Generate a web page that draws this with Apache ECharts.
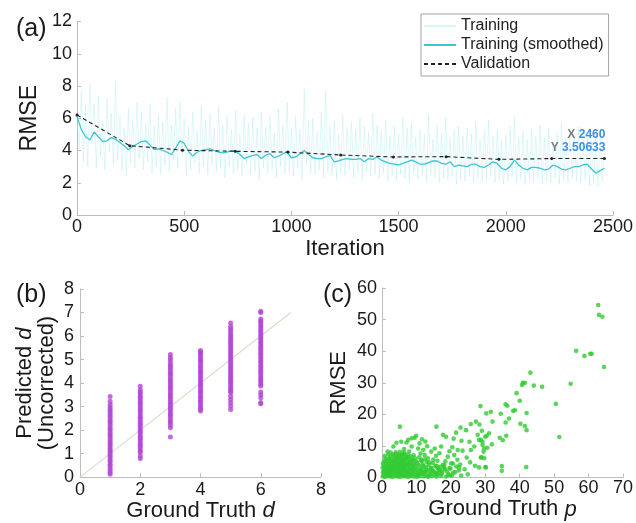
<!DOCTYPE html>
<html>
<head>
<meta charset="utf-8">
<script src="https://cdn.jsdelivr.net/npm/echarts@6/dist/echarts.min.js"></script>
<style>
  html, body { margin: 0; padding: 0; background: #ffffff; }
  #chart { width: 636px; height: 523px; }
</style>
</head>
<body>
<div id="chart"></div>
<script>
// ---------- (a) training progress ----------
const rawStep = 10;       // raw training RMSE sampled every 10 iterations
const trainingRaw = [
  6.2, 4.1, 7.6, 3.3, 6.8, 3.0, 8.1, 4.4, 6.9, 2.9,
  7.4, 3.6, 5.8, 2.8, 7.2, 3.9, 6.3, 3.1, 8.3, 3.4,
  6.1, 2.7, 5.4, 2.4, 6.6, 3.2, 5.9, 2.9, 7.0, 3.5,
  6.4, 2.8, 5.7, 3.3, 6.9, 2.6, 5.5, 3.0, 6.2, 2.5,
  5.8, 3.1, 7.3, 2.7, 5.6, 3.4, 6.6, 2.9, 7.0, 3.6,
  6.0, 2.4, 5.5, 2.8, 6.4, 3.2, 5.2, 2.6, 6.8, 3.0,
  5.9, 2.5, 6.3, 3.1, 5.4, 2.7, 6.7, 2.9, 5.6, 2.3,
  6.1, 3.0, 5.3, 2.6, 6.5, 2.8, 5.0, 2.4, 6.2, 3.1,
  5.7, 2.5, 6.0, 2.7, 5.4, 2.2, 6.4, 2.9, 5.5, 2.6,
  6.2, 2.8, 5.1, 2.3, 6.6, 3.0, 5.6, 2.5, 7.0, 2.7,
  5.4, 2.4, 6.1, 2.9, 5.3, 2.2, 7.8, 3.1, 5.8, 2.6,
  6.0, 2.5, 5.2, 2.8, 6.4, 2.3, 7.7, 2.7, 5.5, 2.4,
  5.9, 2.2, 5.0, 2.6, 6.2, 2.4, 5.4, 2.8, 5.8, 2.3,
  5.3, 2.6, 6.0, 2.2, 5.5, 2.7, 5.1, 2.4, 6.3, 2.5,
  5.6, 2.3, 5.2, 2.6, 5.9, 2.1, 4.9, 2.4, 5.5, 2.2,
  5.0, 2.5, 6.1, 2.3, 5.4, 2.0, 5.7, 2.6, 4.8, 2.2,
  5.3, 2.4, 5.0, 2.1, 6.2, 2.5, 4.7, 2.3, 5.6, 2.0,
  5.1, 2.3, 6.0, 2.2, 4.8, 2.4, 5.3, 1.9, 5.5, 2.2,
  4.9, 2.1, 5.4, 2.4, 5.0, 2.0, 5.8, 2.3, 4.7, 2.1,
  5.2, 2.2, 5.9, 2.4, 4.9, 2.0, 5.3, 2.2, 4.6, 1.9,
  5.0, 2.1, 5.5, 2.4, 6.1, 2.0, 4.8, 2.2, 5.2, 1.9,
  4.7, 2.2, 5.3, 2.0, 4.9, 2.3, 5.6, 1.9, 4.8, 2.1,
  5.4, 2.0, 4.6, 2.3, 5.1, 1.9, 5.7, 2.2, 4.8, 2.0,
  5.2, 2.3, 4.9, 2.1, 5.5, 2.0, 4.7, 2.2, 5.0, 1.8,
  4.6, 2.0, 5.2, 1.8, 4.9, 2.1, 3.9
];

const smoothStep = 20;    // smoothed curve sampled every 20 iterations
const trainingSmoothed = [
  6.1, 5.3, 4.85, 4.65, 5.15, 4.85, 4.55, 4.6, 4.8, 4.7,
  4.5, 4.3, 4.05, 4.25, 4.4, 4.55, 4.6, 4.35, 4.05, 4.1,
  4.0, 3.9, 3.75, 4.15, 4.6, 4.45, 3.95, 3.65, 3.9, 4.0,
  4.05, 4.1, 4.0, 3.9, 3.85, 3.9, 4.0, 3.95, 3.75, 3.5,
  3.6, 3.7, 3.75, 3.5, 3.7, 3.8, 3.55, 3.65, 3.8, 3.9,
  3.55, 3.6, 3.8, 4.0, 3.75, 3.55, 3.5, 3.5, 3.6, 3.7,
  3.3, 3.35, 3.45, 3.5, 3.45, 3.45, 3.5, 3.3, 3.5, 3.45,
  3.6, 3.4, 3.3, 3.2, 3.15, 3.1, 3.2, 3.3, 3.4, 3.3,
  3.15, 3.15, 3.25, 3.35, 3.35, 3.2, 3.15, 3.3, 3.0, 3.1,
  3.05, 3.0, 3.15, 3.15, 3.0, 2.95, 3.1, 3.3, 3.2, 2.9,
  2.8, 3.0, 3.4, 3.1, 2.9, 2.8, 2.95, 2.95, 2.9, 2.8,
  2.85, 3.1, 3.0, 2.85, 2.8, 2.9, 3.0, 3.0, 3.1, 3.15,
  2.85, 2.6, 2.75, 2.9
];

const validationIter = [0, 246, 492, 738, 984, 1230, 1476, 1722, 1968, 2214, 2460];
const validationRmse = [6.2, 4.3, 4.02, 3.95, 3.9, 3.72, 3.6, 3.62, 3.45, 3.5, 3.50633];

// ---------- (b) predicted vs ground-truth d ----------
const truthD = [1, 2, 3, 4, 5, 6];
const predictedD = [
  [0.12, 0.2, 0.29, 0.38, 0.48, 0.55, 0.66, 0.73, 0.83, 0.92, 1.01, 1.1, 1.18, 1.28, 1.37, 1.45, 1.54, 1.63, 1.73, 1.81,
   1.9, 2.0, 2.07, 2.17, 2.27, 2.35, 2.43, 2.53, 2.62, 2.7, 2.8, 2.89, 2.98, 3.09, 3.23, 3.43],
  [0.79, 0.9, 1.05, 1.12, 1.22, 1.31, 1.39, 1.48, 1.58, 1.66, 1.74, 1.84, 1.93, 2.01, 2.11, 2.2, 2.28, 2.38, 2.47, 2.55,
   2.64, 2.74, 2.83, 2.91, 3.0, 3.1, 3.18, 3.28, 3.37, 3.44, 3.54, 3.62, 3.71, 3.86],
  [1.71, 2.1, 2.2, 2.32, 2.4, 2.5, 2.61, 2.68, 2.77, 2.87, 2.95, 3.04, 3.14, 3.22, 3.32, 3.41, 3.5, 3.59, 3.69, 3.78,
   3.86, 3.96, 4.05, 4.13, 4.23, 4.33, 4.41, 4.5, 4.6, 4.69, 4.77, 4.87, 4.99, 5.09, 5.21],
  [2.81, 2.9, 2.98, 3.08, 3.18, 3.26, 3.35, 3.43, 3.53, 3.62, 3.7, 3.8, 3.9, 3.98, 4.07, 4.16, 4.25, 4.35, 4.43, 4.51,
   4.61, 4.7, 4.79, 4.89, 4.97, 5.05, 5.15, 5.24, 5.31, 5.38],
  [2.88, 3.02, 3.16, 3.3, 3.44, 3.6, 3.67, 3.75, 3.84, 3.93, 4.03, 4.11, 4.2, 4.29, 4.38, 4.47, 4.57, 4.65, 4.74, 4.83,
   4.92, 5.01, 5.1, 5.19, 5.28, 5.37, 5.46, 5.55, 5.64, 5.73, 5.82, 5.91, 6.0, 6.09, 6.2, 6.3, 6.41, 6.55],
  [3.12, 3.17, 3.38, 3.5, 3.62, 3.87, 3.95, 4.04, 4.13, 4.22, 4.31, 4.41, 4.49, 4.58, 4.67, 4.76, 4.86, 4.94, 5.03, 5.12,
   5.21, 5.3, 5.39, 5.48, 5.57, 5.66, 5.75, 5.84, 5.93, 6.02, 6.11, 6.2, 6.29, 6.38, 6.47, 6.56, 6.64, 6.72, 7.0, 7.05]
];
const identityLine = [[0, 0], [7, 7]];

// ---------- (c) RMSE vs ground-truth p ----------
const rmseVsP = [
  [0.2,0.3],[0.9,0.2],[1.6,0.4],[2.4,0.3],[3.1,0.2],[3.9,0.4],[4.6,0.3],[5.3,0.2],[6.1,0.4],[6.8,0.3],[7.6,0.2],
  [8.3,0.4],[9.2,0.3],[10.1,0.2],[11.0,0.4],[12.2,0.3],[13.4,0.2],[14.5,0.4],[15.8,0.3],[17.1,0.5],[18.6,0.3],[20.3,0.6],
  [0.5,1.0],[1.2,1.1],[2.0,0.9],[2.7,1.0],[3.5,1.2],[4.3,0.9],[5.0,1.1],[5.8,1.0],[6.5,0.9],[7.3,1.2],[8.0,1.0],
  [8.8,1.1],[9.7,0.9],[10.6,1.0],[11.6,1.2],[12.7,0.9],[13.9,1.1],[15.2,1.0],[16.4,1.3],[19.3,1.1],
  [0.3,1.7],[1.0,1.8],[1.8,1.6],[2.5,1.7],[3.3,1.9],[4.0,1.7],[4.8,1.6],[5.5,1.8],[6.3,1.7],[7.0,1.9],[7.8,1.6],
  [8.6,1.8],[9.4,1.7],[10.4,1.6],[11.3,1.9],[12.5,1.7],[14.1,1.8],[15.6,1.6],[17.5,1.9],[21.2,1.7],
  [0.6,2.4],[1.4,2.5],[2.2,2.3],[2.9,2.4],[3.7,2.6],[4.5,2.4],[5.2,2.3],[6.0,2.5],[6.7,2.4],[7.5,2.3],[8.3,2.6],
  [9.1,2.4],[10.0,2.5],[10.9,2.3],[12.0,2.6],[13.2,2.4],[14.7,2.2],[16.5,2.5],[18.3,2.7],
  [0.2,3.1],[1.1,3.2],[1.9,3.0],[2.6,3.1],[3.4,3.3],[4.2,3.1],[4.9,3.0],[5.7,3.2],[6.4,3.1],[7.2,3.3],[8.0,3.0],
  [8.9,3.2],[9.8,3.1],[11.2,3.0],[12.8,3.3],[14.3,3.1],[17.0,3.4],[19.6,3.0],[22.4,3.2],
  [0.5,3.8],[1.5,3.9],[2.3,3.7],[3.1,3.8],[3.9,4.0],[4.6,3.8],[5.4,3.7],[6.2,3.9],[6.9,3.8],[7.7,4.0],[8.6,3.7],
  [9.5,3.9],[10.7,3.8],[12.1,3.6],[13.6,4.0],[15.9,3.7],[18.1,3.9],
  [0.3,4.5],[1.2,4.6],[2.0,4.4],[2.8,4.5],[3.6,4.7],[4.4,4.5],[5.1,4.4],[5.9,4.6],[6.7,4.5],[7.5,4.3],[8.4,4.6],
  [9.3,4.4],[10.3,4.5],[11.8,4.2],[14.8,4.6],[20.6,4.4],
  [0.7,5.2],[1.6,5.3],[2.5,5.1],[3.3,5.2],[4.1,5.4],[4.9,5.2],[5.6,5.1],[6.4,5.3],[7.2,5.2],[8.1,5.0],[9.0,5.3],
  [10.0,5.1],[11.5,5.2],[13.0,4.9],[16.1,5.3],
  [1.0,5.9],[2.0,6.0],[3.0,5.8],[3.8,5.9],[4.6,6.1],[5.4,5.9],[6.1,5.8],[6.9,6.0],[7.8,5.9],[8.7,5.7],[9.6,6.0],[12.3,5.8],
  [2.4,6.6],[3.5,6.7],[4.3,6.5],[5.1,6.6],[5.9,6.8],[6.6,6.6],[7.4,6.5],[8.4,6.7],[10.8,6.4],
  [3.2,7.3],[4.1,7.4],[4.9,7.2],[5.8,7.3],[6.6,7.5],[7.5,7.2],[9.2,7.0],
  [4.0,8.0],[5.2,8.1],[6.3,7.9],[7.9,8.2],
  [10.5,0.8],[11.8,1.5],[12.9,2.1],[13.6,0.6],[14.2,2.8],[15.0,1.9],[15.5,3.6],[16.0,0.9],[16.9,2.3],[17.4,1.2],
  [18.0,3.1],[18.8,2.0],[19.5,0.7],[19.9,2.8],[20.7,1.5],[21.6,3.5],[22.3,2.2],[11.2,7.6],[12.0,8.8],[13.1,9.9],
  [13.8,4.8],[14.9,5.7],[15.7,6.9],[18.4,5.1],[19.6,8.3],[20.4,9.6],[21.9,5.6],[22.7,4.1],[24.0,2.6],[25.6,4.8],
  [26.8,9.8],[24.6,6.3],[27.0,3.7],[10.9,10.8],[12.6,11.4],[9.9,13.2],[6.4,9.0],[2.5,7.9],[0.8,6.8],[1.8,7.3],
  [5.2,16.1],[15.8,16.1],[7.1,11.1],[9.5,12.6],[11.6,12.1],[17.7,13.5],[18.6,12.9],[21.5,14.2],[22.8,15.8],[24.4,15.0],
  [25.8,16.9],[25.4,11.3],[23.1,11.6],[20.8,12.3],[22.0,8.7],[23.4,8.5],[25.8,8.7],[27.8,13.5],[28.2,11.9],[29.2,10.3],
  [28.9,6.4],[28.2,3.2],[30.2,3.2],[24.9,1.0],[23.0,0.6],[29.7,6.1],[20.1,4.5],[17.7,4.0],[16.2,2.9],[19.1,6.6],
  [21.0,7.1],[15.3,9.2],[14.3,8.2],[16.7,7.7],[17.2,9.8],[13.3,6.1],[12.4,7.1],[11.4,5.5],[10.5,9.2],[8.6,9.8],
  [4.2,11.0],[5.6,11.3],[7.6,11.9],[8.6,12.4],[3.3,9.8],[1.6,8.2],[27.3,17.7],[28.3,16.8],
  [62.8,54.6],[63.0,51.5],[64.0,50.9],[56.4,40.1],[58.8,38.5],[60.5,39.2],[60.9,39.2],[64.5,35.0],[43.1,33.2],[40.9,30.0],
  [41.5,30.0],[40.7,29.3],[44.1,29.1],[46.5,28.7],[54.8,29.7],[39.1,26.7],[40.0,24.3],[50.5,23.3],[35.9,23.2],[36.4,22.7],
  [38.1,21.1],[38.6,21.3],[42.0,20.4],[34.5,20.2],[30.3,20.3],[31.6,20.8],[28.6,22.6],[36.9,18.7],[32.1,17.7],[35.9,17.4],
  [40.2,17.0],[41.5,16.3],[42.0,15.0],[29.0,14.8],[31.1,14.0],[30.0,12.9],[30.4,13.2],[34.2,12.6],[35.1,11.8],[36.1,13.2],
  [51.5,12.8],[28.7,11.9],[29.2,11.3],[31.9,10.5],[30.6,9.4],[29.7,9.2],[29.5,8.2],[28.7,6.3],[30.0,3.3],[34.8,3.6],
  [34.8,2.1],[41.9,3.3]
];

// ---------- styling helpers ----------
const FONT = '"Liberation Sans", Arial, Helvetica, sans-serif';
const AXIS_GREY = '#bdbdbd';
const TEXT = '#1a1a1a';

function axis(extra, labelMargin, nameSize) {
  return Object.assign({
    type: 'value',
    axisLine: { show: true, onZero: false, lineStyle: { color: AXIS_GREY, width: 1 } },
    axisTick: { show: true, inside: true, length: 4, lineStyle: { color: AXIS_GREY } },
    axisLabel: { color: TEXT, fontSize: 18, fontFamily: FONT, margin: labelMargin, formatter: v => String(v) },
    splitLine: { show: false },
    nameLocation: 'middle',
    nameTextStyle: { color: TEXT, fontSize: nameSize, fontFamily: FONT }
  }, extra);
}

const chart = echarts.init(document.getElementById('chart'), null, { renderer: 'canvas' });

const scatterB = [];
truthD.forEach((d, i) => predictedD[i].forEach(v => scatterB.push([d, v])));

const option = {
  backgroundColor: '#ffffff',
  animation: false,
  textStyle: { fontFamily: FONT },
  title: [
    { text: '(a)', left: 11, top: 12, textStyle: { fontSize: 25, fontWeight: 'normal', color: TEXT, fontFamily: FONT } },
    { text: '(b)', left: 11, top: 278, textStyle: { fontSize: 25, fontWeight: 'normal', color: TEXT, fontFamily: FONT } },
    { text: '(c)', left: 318, top: 278, textStyle: { fontSize: 25, fontWeight: 'normal', color: TEXT, fontFamily: FONT } }
  ],
  legend: {
    data: ['Training', 'Training (smoothed)', 'Validation'],
    orient: 'vertical',
    left: 421, top: 14,
    padding: [4, 5, 4, 2],
    itemGap: 3,
    itemWidth: 32, itemHeight: 14,
    borderColor: '#a3a3a3', borderWidth: 1,
    backgroundColor: '#ffffff',
    itemStyle: { opacity: 0 },
    textStyle: { fontSize: 16, color: '#222', fontFamily: FONT }
  },
  grid: [
    { left: 77, right: 21, top: 21.5, bottom: 308 },
    { left: 80, right: 315, top: 289, bottom: 45 },
    { left: 382, right: 11, top: 288, bottom: 45.5 }
  ],
  xAxis: [
    axis({ gridIndex: 0, min: 0, max: 2500, interval: 500, name: 'Iteration', nameGap: 23 }, 3, 22),
    axis({ gridIndex: 1, min: 0, max: 8, interval: 2,
      name: '{t|Ground Truth }{i|d}', nameGap: 17,
      nameTextStyle: { color: TEXT, fontSize: 22, fontFamily: FONT,
        rich: { t: { fontSize: 22, color: TEXT, fontFamily: FONT }, i: { fontSize: 22, color: TEXT, fontFamily: FONT, fontStyle: 'italic' } } } }, 4, 22),
    axis({ gridIndex: 2, min: 0, max: 70, interval: 10,
      name: '{t|Ground Truth }{i|p}', nameGap: 18,
      nameTextStyle: { color: TEXT, fontSize: 22, fontFamily: FONT,
        rich: { t: { fontSize: 22, color: TEXT, fontFamily: FONT }, i: { fontSize: 22, color: TEXT, fontFamily: FONT, fontStyle: 'italic' } } } }, 2, 22)
  ],
  yAxis: [
    axis({ gridIndex: 0, min: 0, max: 12, interval: 2, name: 'RMSE', nameGap: 32 }, 5, 23),
    axis({ gridIndex: 1, min: 0, max: 8, interval: 1,
      name: '{t|Predicted }{i|d}\n{t|(Uncorrected)}', nameGap: 22,
      nameTextStyle: { color: TEXT, fontSize: 22, fontFamily: FONT, lineHeight: 22,
        rich: { t: { fontSize: 22, lineHeight: 22, color: TEXT, fontFamily: FONT }, i: { fontSize: 22, lineHeight: 22, color: TEXT, fontFamily: FONT, fontStyle: 'italic' } } } }, 6, 22),
    axis({ gridIndex: 2, min: 0, max: 60, interval: 10, name: 'RMSE', nameGap: 32 }, 5, 22)
  ],
  series: [
    {
      name: 'Training', type: 'line', xAxisIndex: 0, yAxisIndex: 0,
      data: trainingRaw.map((v, i) => [i * rawStep, v]),
      symbol: 'none', z: 1,
      lineStyle: { color: 'rgba(120,218,232,0.28)', width: 0.8 },
      itemStyle: { color: 'rgba(120,218,232,0.5)' }
    },
    {
      name: 'Training (smoothed)', type: 'line', xAxisIndex: 0, yAxisIndex: 0,
      data: trainingSmoothed.map((v, i) => [i * smoothStep, v]),
      symbol: 'none', z: 2,
      lineStyle: { color: '#3ec5d6', width: 1.3 },
      itemStyle: { color: '#3ec5d6' }
    },
    {
      name: 'Validation', type: 'line', xAxisIndex: 0, yAxisIndex: 0,
      data: validationIter.map((it, i) => {
        const item = { value: [it, validationRmse[i]] };
        if (i === validationIter.length - 1) {
          item.label = {
            show: true, position: 'top', align: 'right', distance: 3, offset: [1, 0],
            lineHeight: 13,
            formatter: p => `{k|X }{v|${p.value[0]}}\n{k|Y }{v|${p.value[1]}}`,
            rich: {
              k: { color: '#7d7d7d', fontWeight: 'bold', fontSize: 12, fontFamily: FONT, lineHeight: 13 },
              v: { color: '#3d90e2', fontWeight: 'bold', fontSize: 12, fontFamily: FONT, lineHeight: 13 }
            }
          };
        }
        return item;
      }),
      symbol: 'circle', symbolSize: 3, showSymbol: true, z: 3,
      lineStyle: { color: '#222', width: 1.1, type: [4, 3] },
      itemStyle: { color: '#222' }
    },
    {
      type: 'line', xAxisIndex: 1, yAxisIndex: 1, data: identityLine,
      symbol: 'none', z: 1,
      lineStyle: { color: '#dcdcc9', width: 1.2 }
    },
    {
      type: 'scatter', xAxisIndex: 1, yAxisIndex: 1, data: scatterB,
      symbol: 'circle', symbolSize: 5, z: 2,
      itemStyle: { color: '#b344d4' }
    },
    {
      type: 'scatter', xAxisIndex: 2, yAxisIndex: 2, data: rmseVsP,
      symbol: 'circle', symbolSize: 4.6, z: 2,
      itemStyle: { color: '#2fcb2f' }
    }
  ]
};

chart.setOption(option);
</script>
</body>
</html>
